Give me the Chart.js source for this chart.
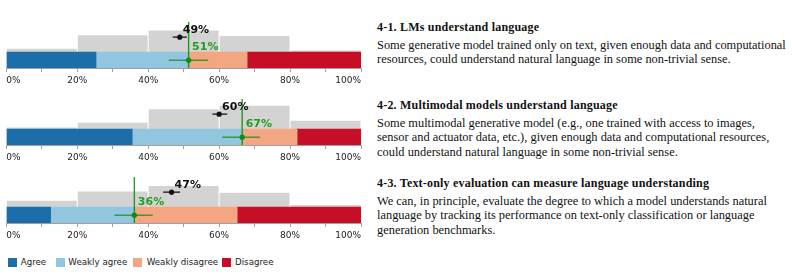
<!DOCTYPE html>
<html>
<head>
<meta charset="utf-8">
<script src="https://cdn.jsdelivr.net/npm/chart.js@4/dist/chart.umd.min.js"></script>
<style>
  html, body { margin:0; padding:0; background:#fff; }
  body { width:792px; height:276px; position:relative; overflow:hidden; }
  canvas.panel { position:absolute; left:0; }
  .legend { position:absolute; top:256px; left:0; height:12px; font-family:"DejaVu Sans", Verdana, sans-serif; font-size:8.7px; color:#222; }
  .legend .it { position:absolute; top:0; white-space:nowrap; line-height:12px; }
  .legend .sw { position:absolute; top:1.5px; width:9px; height:9px; }
  .legend .tx { position:absolute; top:0; }
  .blk { position:absolute; left:377px; font-family:"Liberation Serif", "Times New Roman", serif; color:#111; white-space:nowrap; }
  .blk .t { font-weight:bold; font-size:12px; line-height:14px; letter-spacing:0.2px; }
  .blk .b { font-size:12.4px; line-height:14.3px; margin-top:4px; }
</style>
</head>
<body>
<canvas id="c0" class="panel" width="370" height="72" style="top:18px"></canvas>
<canvas id="c1" class="panel" width="370" height="72" style="top:95px"></canvas>
<canvas id="c2" class="panel" width="370" height="72" style="top:173px"></canvas>

<div class="legend" id="legend"></div>

<div class="blk" style="top:20px">
  <div class="t">4-1. LMs understand language</div>
  <div class="b">Some generative model trained only on text, given enough data and computational<br>resources, could understand natural language in some non-trivial sense.</div>
</div>
<div class="blk" style="top:98px">
  <div class="t">4-2. Multimodal models understand language</div>
  <div class="b">Some multimodal generative model (e.g., one trained with access to images,<br>sensor and actuator data, etc.), given enough data and computational resources,<br>could understand natural language in some non-trivial sense.</div>
</div>
<div class="blk" style="top:176px">
  <div class="t">4-3. Text-only evaluation can measure language understanding</div>
  <div class="b">We can, in principle, evaluate the degree to which a model understands natural<br>language by tracking its performance on text-only classification or language<br>generation benchmarks.</div>
</div>

<script>
// ---------------- DATA ----------------
const categories = ['Agree', 'Weakly agree', 'Weakly disagree', 'Disagree'];
const questions = ['4-1', '4-2', '4-3'];
// share of respondents (%) per answer, one entry per question
const agreeShares          = [25.3, 35.5, 12.5];
const weaklyAgreeShares    = [26.1, 31.0, 23.6];
const weaklyDisagreeShares = [16.5, 15.5, 29.0];
const disagreeShares       = [32.1, 18.0, 34.9];
// confidence interval of the actual agreement (%)
const actualLow  = [45.8, 60.9, 30.5];
const actualHigh = [56.9, 71.5, 41.3];
// respondents' predicted agreement: mean and interval (%)
const predictedMean = [48.9, 60.0, 46.6];
const predictedLow  = [46.9, 58.1, 44.2];
const predictedHigh = [50.9, 62.3, 49.0];
// histogram of predictions: bin centres and share of respondents (%)
const histBinCenters = [10, 30, 50, 70, 90];
const histQ1 = [6, 28, 36, 27, 3];
const histQ2 = [3, 11, 33, 39, 14];
const histQ3 = [11, 26, 35, 24, 4];
const tickLabels = ['0%', '20%', '40%', '60%', '80%', '100%'];

// ---------------- STYLE / LAYOUT ----------------
const segColors = ['#1b6ea9', '#92c5de', '#f4a582', '#c50f26'];
const histColor = '#d3d3d3';
const greenLine = 'rgba(0,140,0,0.85)';
const greenText = '#249b24';
const Y_MAX = 53, BAR_Y = 9, HIST_BASE = 18, HIST_SCALE = 0.7;
const PRED_Y = 35.5, PRED_LABEL_Y = 43.5, ACT_LABEL_Y = 23.5;

const segShares = [agreeShares, weaklyAgreeShares, weaklyDisagreeShares, disagreeShares];
const hists = [histQ1, histQ2, histQ3];

const labelPlugin = {
  id: 'lbl',
  afterDatasetsDraw(chart, args, opts) {
    const ctx = chart.ctx, x = chart.scales.x, y = chart.scales.y;
    ctx.save();
    ctx.font = 'bold 11px "DejaVu Sans"';
    ctx.textBaseline = 'middle';
    ctx.textAlign = 'left';
    ctx.fillStyle = '#111';
    ctx.fillText(Math.round(opts.mean) + '%', x.getPixelForValue(opts.mean) + 3, y.getPixelForValue(PRED_LABEL_Y));
    ctx.fillStyle = greenText;
    ctx.fillText(Math.round(opts.agree) + '%', x.getPixelForValue(opts.agree) + 3.5, y.getPixelForValue(ACT_LABEL_Y));
    ctx.restore();
  }
};

questions.forEach((q, i) => {
  const datasets = [];
  // stacked answer bar as floating horizontal segments
  let start = 0;
  segShares.forEach((arr, k) => {
    const end = start + arr[i];
    datasets.push({
      type: 'bar', label: categories[k], indexAxis: 'y', xAxisID: 'x', yAxisID: 'yb',
      data: [{ x: [start, end], y: BAR_Y }], backgroundColor: segColors[k],
      barThickness: 16, grouped: false, order: 9, borderWidth: 0
    });
    start = end;
  });
  const agree = agreeShares[i] + weaklyAgreeShares[i];
  // histogram of predictions
  datasets.push({
    type: 'bar', label: 'predictions', indexAxis: 'x', xAxisID: 'xh', yAxisID: 'y',
    data: histBinCenters.map((c, j) => ({ x: c, y: [HIST_BASE, HIST_BASE + hists[i][j] * HIST_SCALE] })),
    backgroundColor: histColor, barPercentage: 0.985, categoryPercentage: 1, grouped: false, order: 10, borderWidth: 0
  });
  // actual agreement line
  datasets.push({
    type: 'line', xAxisID: 'x', yAxisID: 'y', data: [{ x: agree, y: 0 }, { x: agree, y: Y_MAX }],
    borderColor: greenLine, borderWidth: 1.4, pointRadius: 0, order: 3
  });
  // actual agreement interval
  datasets.push({
    type: 'line', xAxisID: 'x', yAxisID: 'y', data: [{ x: actualLow[i], y: BAR_Y }, { x: actualHigh[i], y: BAR_Y }],
    borderColor: 'rgba(20,140,20,0.75)', borderWidth: 1.4, pointRadius: 0, order: 2
  });
  datasets.push({
    type: 'line', xAxisID: 'x', yAxisID: 'y', data: [{ x: agree, y: BAR_Y }],
    pointRadius: 2.6, pointBackgroundColor: '#128a12', pointBorderWidth: 0, showLine: false, order: 1
  });
  // predicted agreement
  datasets.push({
    type: 'line', xAxisID: 'x', yAxisID: 'y', data: [{ x: predictedLow[i], y: PRED_Y }, { x: predictedHigh[i], y: PRED_Y }],
    borderColor: '#111', borderWidth: 1.3, pointRadius: 0, order: 2
  });
  datasets.push({
    type: 'line', xAxisID: 'x', yAxisID: 'y', data: [{ x: predictedMean[i], y: PRED_Y }],
    pointRadius: 2.6, pointBackgroundColor: '#111', pointBorderWidth: 0, showLine: false, order: 1
  });

  new Chart(document.getElementById('c' + i), {
    type: 'line',
    data: { datasets },
    options: {
      responsive: false, animation: false, devicePixelRatio: 1,
      layout: { padding: { left: 6.3, right: 9, top: 0, bottom: 1.2 } },
      plugins: { legend: { display: false }, tooltip: { enabled: false }, lbl: { mean: predictedMean[i], agree } },
      scales: {
        x: {
          type: 'linear', min: 0, max: 100, position: 'bottom', offset: false, beginAtZero: false,
          ticks: {
            stepSize: 10, autoSkip: false, align: 'inner', maxRotation: 0, padding: 3,
            color: '#222', font: { family: 'DejaVu Sans', size: 9 },
            callback: v => (v % 20 === 0 ? tickLabels[v / 20] : '')
          },
          grid: { drawOnChartArea: false, drawTicks: true, tickLength: 4, color: '#a0a0a0', offset: false },
          border: { color: '#a0a0a0' }
        },
        xh: { type: 'linear', axis: 'x', position: 'bottom', min: 0, max: 100, display: false, offset: false, grid: { offset: false } },
        y: { type: 'linear', axis: 'y', position: 'left', min: 0, max: Y_MAX, display: false, offset: false, grid: { offset: false } },
        yb: { type: 'linear', axis: 'y', position: 'left', min: 0, max: Y_MAX, display: false, offset: false, grid: { offset: false } }
      }
    },
    plugins: [labelPlugin]
  });
});

// legend
const legendPos = [[8, 20.7], [56, 68.3], [132.7, 146.7], [222.3, 235]];
const lg = document.getElementById('legend');
categories.forEach((c, k) => {
  const it = document.createElement('div');
  it.className = 'it';
  it.style.left = '0px';
  const sw = document.createElement('div');
  sw.className = 'sw'; sw.style.left = legendPos[k][0] + 'px'; sw.style.background = segColors[k];
  const tx = document.createElement('div');
  tx.className = 'tx'; tx.style.left = legendPos[k][1] + 'px'; tx.textContent = c;
  it.appendChild(sw); it.appendChild(tx); lg.appendChild(it);
});
</script>
</body>
</html>
